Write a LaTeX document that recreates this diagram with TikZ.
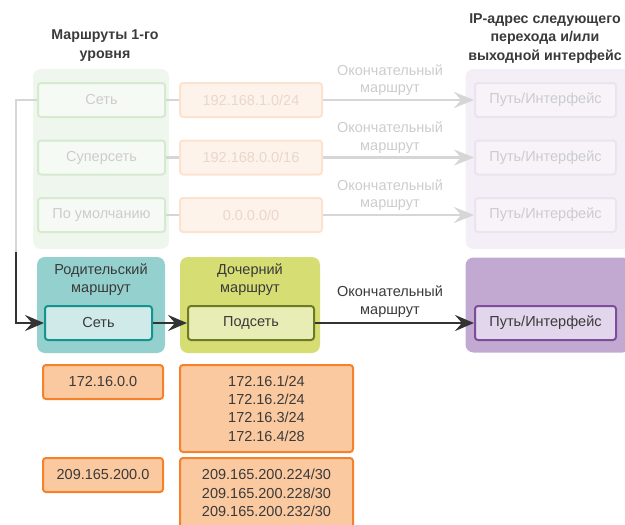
\documentclass[tikz,border=0pt]{standalone}
\usepackage{fontspec}
\setmainfont{Liberation Sans}
\usetikzlibrary{arrows.meta}
\definecolor{ink}{HTML}{3A3A3A}
\definecolor{fadeink}{HTML}{CCCCCC}
\definecolor{fadegreen}{HTML}{EFF6ED}
\definecolor{fadegreenbox}{HTML}{F6FAF4}
\definecolor{fadegreenline}{HTML}{D6E9D1}
\definecolor{fadeorange}{HTML}{FEF3EA}
\definecolor{fadeorangeline}{HTML}{FDE3CF}
\definecolor{fadeorangeink}{HTML}{E8D7CD}
\definecolor{fadepurple}{HTML}{F4EFF7}
\definecolor{fadepurplebox}{HTML}{F7F3F9}
\definecolor{fadepurpleline}{HTML}{ECE3F1}
\definecolor{fadearrow}{HTML}{D6D6D6}
\definecolor{tealbg}{HTML}{94D0CD}
\definecolor{tealbox}{HTML}{D0E9E9}
\definecolor{tealline}{HTML}{15938F}
\definecolor{limebg}{HTML}{D6DD73}
\definecolor{limebox}{HTML}{E8ECB5}
\definecolor{limeline}{HTML}{6F7B23}
\definecolor{purplebg}{HTML}{C2A9D2}
\definecolor{purplebox}{HTML}{E2D6EC}
\definecolor{purpleline}{HTML}{7D4D9B}
\definecolor{addrfill}{HTML}{FBC9A0}
\definecolor{addrline}{HTML}{F5822A}
\definecolor{darkarrow}{HTML}{333333}
\tikzset{
  bgbox/.style={rounded corners=8pt, inner sep=0pt},
  rtbox/.style={draw, rounded corners=3pt, line width=2pt, minimum height=34pt,
    inner sep=0pt, font=\fontsize{14.5}{17.5}\selectfont},
  addrbox/.style={rtbox, fill=addrfill, draw=addrline, text=ink, align=center,
    font=\fontsize{14.5}{18.3}\selectfont},
  lbl/.style={align=center, text=ink, font=\fontsize{14.5}{17.5}\selectfont},
  heading/.style={align=center, text=ink, font=\bfseries\fontsize{14.2}{18.5}\selectfont},
  fadeflow/.style={-{Stealth[length=20pt, width=16pt, inset=7pt]}, line width=2.8pt, color=fadearrow},
  flow/.style={-{Stealth[length=19pt, width=16pt, inset=7pt]}, line width=2.8pt, color=darkarrow}
}
\begin{document}
\begin{tikzpicture}[x=1pt, y=-1pt]
\clip (0,0) rectangle (625,525);
% column headings
\node[heading] (headlvl) at (105,45.5) {Маршруты 1-го\\уровня};
\node[heading] (headhop) at (545,38.5) {IP-адрес следующего\\перехода и/или\\выходной интерфейс};
% background panels
\node[bgbox, fill=fadegreen, minimum width=136pt, minimum height=180pt] (lvlbg) at (101,159) {};
\node[bgbox, fill=fadepurple, minimum width=165pt, minimum height=180pt] (hopbg) at (548,159) {};
\node[bgbox, fill=tealbg, minimum width=128pt, minimum height=96pt] (parbg) at (101,305) {};
\node[bgbox, fill=limebg, minimum width=140pt, minimum height=96pt] (chbg) at (250,305) {};
\node[bgbox, fill=purplebg, minimum width=165pt, minimum height=95pt] (outbg) at (548,305) {};
\node[lbl] (partitle) at (101,279.5) {Родительский\\маршрут};
\node[lbl] (chtitle) at (250,279.5) {Дочерний\\маршрут};
% faded level 1 routes
\foreach \name/\kind/\addr [count=\i] in {net/Сеть/192.168.1.0\slash 24,
    super/Суперсеть/192.168.0.0\slash 16, dflt/По умолчанию/0.0.0.0\slash 0} {
  \pgfmathsetmacro\ypos{100+57.5*(\i-1)}
  \node[rtbox, fill=fadegreenbox, draw=fadegreenline, text=fadeink, minimum width=127pt]
    (\name) at (101.5,\ypos) {\kind};
  \node[rtbox, fill=fadeorange, draw=fadeorangeline, text=fadeorangeink, minimum width=142pt]
    (\name addr) at (251,\ypos) {\addr};
  \node[rtbox, fill=fadepurplebox, draw=fadepurpleline, text=fadeink, minimum width=141pt]
    (\name hop) at (545.5,\ypos) {Путь/Интерфейс};
  \node[lbl, text=fadeink] (\name lbl) at (390,\ypos-20) {Окончательный\\маршрут};
  \draw[line width=2.8pt, fadearrow] (\name) -- (\name addr);
  \draw[fadeflow] (\name addr) -- (\name hop);
}
% parent -> child -> exit
\node[rtbox, fill=tealbox, draw=tealline, text=ink, minimum width=107pt] (parent) at (98.5,323) {Сеть};
\node[rtbox, fill=limebox, draw=limeline, text=ink, minimum width=126pt] (child) at (251,323) {Подсеть};
\node[rtbox, fill=purplebox, draw=purpleline, text=ink, minimum width=141pt] (exit) at (545.5,323) {Путь/Интерфейс};
\node[lbl] (finlbl) at (390,301.5) {Окончательный\\маршрут};
\coordinate (corner) at (16,100);
\coordinate (drop) at (16,252);
\draw[line width=2.8pt, fadearrow] (net.west) -- (corner) -- (drop);
\draw[flow] (drop) |- (parent.west);
\draw[flow] (parent) -- (child);
\draw[flow] (child) -- (exit);
% example addresses
\node[addrbox, minimum width=120pt] (par1) at (103,382) {172.16.0.0};
\node[addrbox, minimum width=173pt, minimum height=87pt] (sub1) at (266.5,408.5)
  {172.16.1/24\\172.16.2/24\\172.16.3/24\\172.16.4/28};
\node[addrbox, minimum width=120pt] (par2) at (103,475) {209.165.200.0};
\node[addrbox, minimum width=173pt, minimum height=87pt] (sub2) at (266.5,501.5) {};
\node[lbl, font=\fontsize{14.5}{18.3}\selectfont] (sub2txt) at (266.5,493)
  {209.165.200.224/30\\209.165.200.228/30\\209.165.200.232/30};
\end{tikzpicture}
\end{document}
